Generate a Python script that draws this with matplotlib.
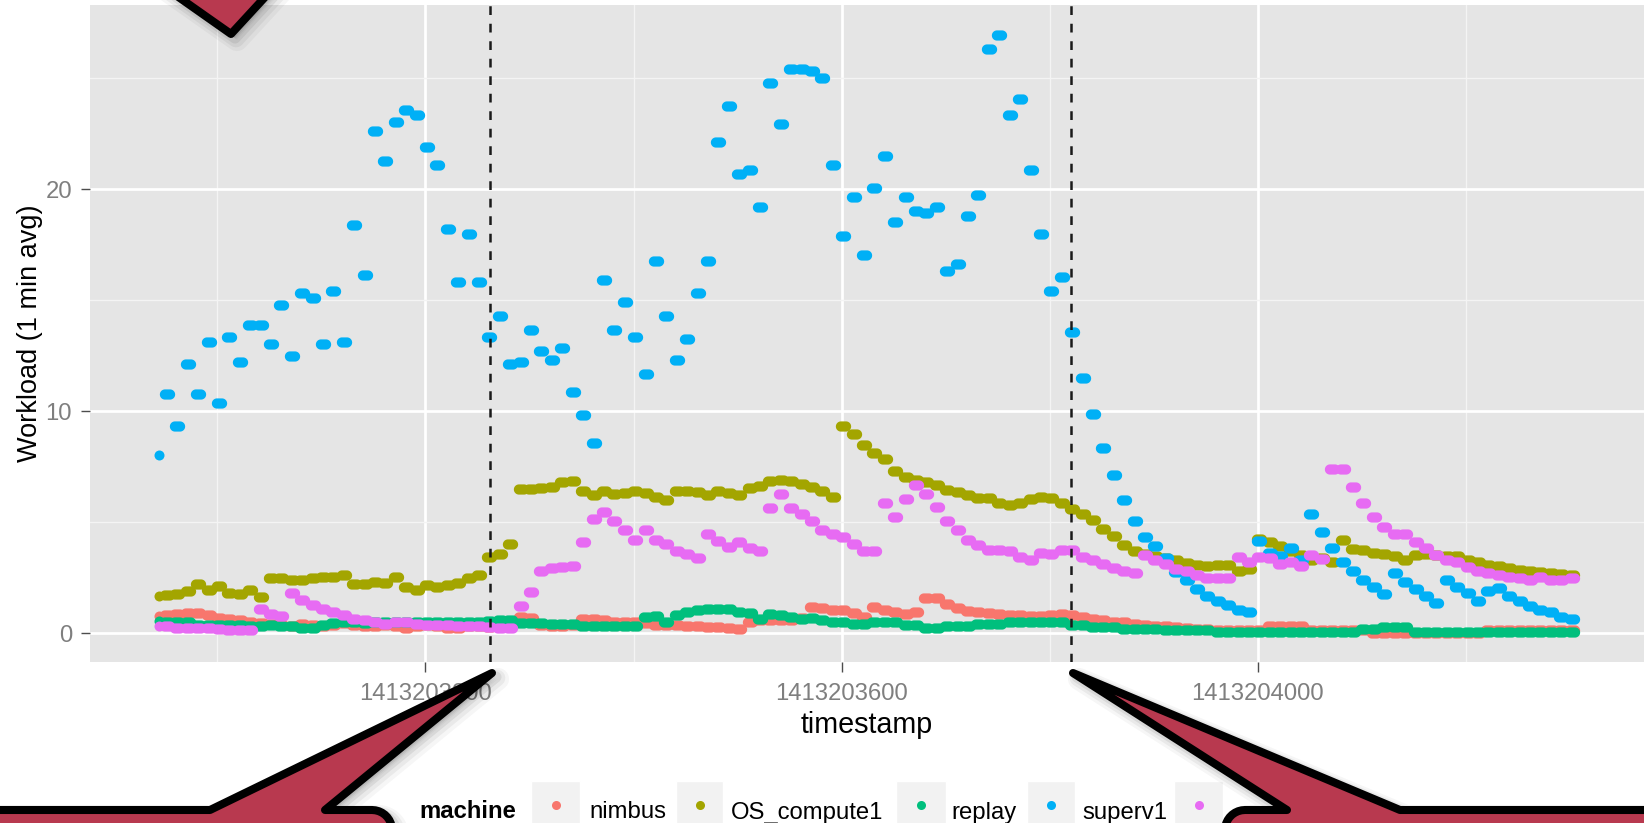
import numpy as np
import matplotlib
matplotlib.use("Agg")
import matplotlib.pyplot as plt
from matplotlib.path import Path
from matplotlib.patches import Polygon, Rectangle
from matplotlib.ticker import FixedLocator, FixedFormatter, NullFormatter

plt.rcParams['font.family'] = ['Liberation Sans', 'DejaVu Sans']

# ---------------- data ----------------
machines = ["nimbus", "OS_compute1", "replay", "superv1", "superv2"]
colors = ["#F8766D", "#A3A500", "#00BF7D", "#00B0F6", "#E76BF3"]

first_timestamp = 1413202944      # first (single) sample
pair_start = 1413202951.5         # later samples come in pairs, one value per 10 s
pair_step = 10

nimbus = [0.75,
    0.80, 0.85, 0.90, 0.90, 0.80, 0.70, 0.65, 0.60, 0.50, 0.45,
    0.40, 0.35, 0.30, 0.40, 0.38, 0.32, 0.35, 0.45, 0.38, 0.30,
    0.32, 0.35, 0.30, 0.25, 0.30, 0.35, 0.30, 0.25, 0.25, 0.30,
    0.30, 0.28, 0.35, 0.55, 0.72, 0.70, 0.35, 0.30, 0.30, 0.35,
    0.63, 0.63, 0.60, 0.52, 0.52, 0.50, 0.45, 0.37, 0.37, 0.35,
    0.30, 0.30, 0.27, 0.27, 0.25, 0.18, 0.52, 0.57, 0.57, 0.57,
    0.60, 0.70, 1.19, 1.12, 1.04, 1.04, 0.90, 0.72, 1.16, 1.04,
    0.97, 0.85, 0.95, 1.57, 1.57, 1.29, 1.15, 1.01, 0.94, 0.90,
    0.87, 0.82, 0.80, 0.78, 0.78, 0.80, 0.88, 0.80, 0.72, 0.65,
    0.60, 0.52, 0.48, 0.42, 0.37, 0.33, 0.30, 0.27, 0.22, 0.20,
    0.18, 0.16, 0.15, 0.15, 0.15, 0.15, 0.30, 0.30, 0.30, 0.30,
    0.15, 0.15, 0.15, 0.15, 0.15, 0.12, 0.02, 0.02, 0.02, 0.02,
    0.02, 0.02, 0.02, 0.02, 0.02, 0.02, 0.02, 0.12, 0.12, 0.12,
    0.12, 0.12, 0.12, 0.12, 0.12, 0.12]

os_compute1 = [1.67,
    1.70, 1.74, 1.90, 2.23, 1.93, 2.11, 1.80, 1.74, 1.93, 1.62,
    2.48, 2.46, 2.40, 2.40, 2.46, 2.51, 2.54, 2.61, 2.21, 2.21,
    2.31, 2.27, 2.54, 2.09, 1.94, 2.16, 2.09, 2.16, 2.24, 2.50,
    2.60, 3.43, 3.55, 4.00, 6.49, 6.49, 6.52, 6.60, 6.80, 6.85,
    6.40, 6.20, 6.42, 6.27, 6.30, 6.38, 6.30, 6.12, 5.98, 6.39,
    6.40, 6.34, 6.20, 6.40, 6.30, 6.20, 6.55, 6.62, 6.87, 6.90,
    6.84, 6.72, 6.60, 6.40, 6.15, 9.33, 8.96, 8.45, 8.10, 7.85,
    7.30, 7.05, 6.90, 6.79, 6.69, 6.45, 6.34, 6.24, 6.09, 6.09,
    5.85, 5.79, 5.85, 6.04, 6.12, 6.09, 5.85, 5.60, 5.35, 5.10,
    4.70, 4.35, 3.95, 3.70, 3.55, 3.45, 3.40, 3.30, 3.16, 3.06,
    3.01, 3.05, 3.05, 2.78, 2.88, 4.25, 4.10, 3.90, 3.70, 3.50,
    3.30, 3.36, 3.21, 4.20, 3.80, 3.73, 3.61, 3.55, 3.46, 3.30,
    3.51, 3.56, 3.52, 3.45, 3.46, 3.30, 3.18, 3.08, 3.00, 2.92,
    2.85, 2.81, 2.76, 2.70, 2.66, 2.60]

replay = [0.55,
    0.52, 0.52, 0.50, 0.37, 0.37, 0.37, 0.35, 0.35, 0.33, 0.33,
    0.35, 0.33, 0.33, 0.25, 0.22, 0.35, 0.45, 0.48, 0.48, 0.45,
    0.48, 0.50, 0.50, 0.50, 0.52, 0.48, 0.50, 0.50, 0.50, 0.52,
    0.52, 0.55, 0.57, 0.57, 0.45, 0.45, 0.45, 0.42, 0.42, 0.42,
    0.33, 0.33, 0.33, 0.33, 0.33, 0.33, 0.72, 0.75, 0.48, 0.80,
    0.97, 1.04, 1.07, 1.07, 1.07, 0.97, 0.90, 0.63, 0.87, 0.82,
    0.72, 0.63, 0.67, 0.60, 0.52, 0.48, 0.42, 0.42, 0.48, 0.48,
    0.48, 0.37, 0.37, 0.22, 0.22, 0.30, 0.30, 0.30, 0.42, 0.42,
    0.42, 0.52, 0.52, 0.52, 0.48, 0.48, 0.48, 0.37, 0.37, 0.27,
    0.27, 0.27, 0.18, 0.18, 0.18, 0.18, 0.12, 0.12, 0.12, 0.12,
    0.12, 0.07, 0.07, 0.07, 0.07, 0.07, 0.03, 0.03, 0.03, 0.03,
    0.03, 0.03, 0.03, 0.03, 0.03, 0.18, 0.18, 0.27, 0.27, 0.27,
    0.03, 0.03, 0.03, 0.03, 0.03, 0.03, 0.03, 0.03, 0.03, 0.03,
    0.03, 0.03, 0.03, 0.03, 0.03, 0.03]

superv1 = [8.00,
    10.75, 9.33, 12.10, 10.75, 13.13, 10.35, 13.34, 12.20, 13.87, 13.87,
    13.04, 14.79, 12.50, 15.30, 15.10, 13.04, 15.40, 13.13, 18.39, 16.13,
    22.62, 21.27, 23.03, 23.55, 23.33, 21.90, 21.08, 18.18, 15.80, 17.98,
    15.80, 13.34, 14.28, 12.10, 12.20, 13.64, 12.70, 12.29, 12.82, 10.86,
    9.83, 8.56, 15.92, 13.64, 14.89, 13.34, 11.69, 16.75, 14.28, 12.30,
    13.23, 15.30, 16.75, 22.10, 23.75, 20.66, 20.87, 19.20, 24.79, 22.92,
    25.40, 25.40, 25.30, 24.98, 21.08, 17.88, 19.64, 17.05, 20.05, 21.50,
    18.52, 19.64, 19.00, 18.90, 19.20, 16.33, 16.64, 18.80, 19.73, 26.33,
    26.96, 23.33, 24.07, 20.87, 17.98, 15.40, 16.02, 13.55, 11.49, 9.86,
    8.33, 7.10, 5.99, 5.04, 4.34, 3.93, 3.36, 2.76, 2.39, 1.97,
    1.67, 1.45, 1.25, 1.05, 0.93, 4.13, 3.59, 3.47, 3.81, 3.29,
    5.36, 4.53, 3.81, 3.21, 2.81, 2.39, 2.09, 1.76, 2.72, 2.30,
    1.97, 1.68, 1.36, 2.39, 2.09, 1.79, 1.46, 1.91, 2.01, 1.67,
    1.45, 1.22, 1.05, 0.93, 0.74, 0.62]

superv2 = [0.30,
    0.30, 0.25, 0.25, 0.22, 0.22, 0.18, 0.15, 0.15, 0.15, 1.07,
    0.88, 0.75, 1.82, 1.50, 1.25, 1.07, 0.95, 0.80, 0.62, 0.57,
    0.48, 0.42, 0.50, 0.52, 0.42, 0.37, 0.37, 0.35, 0.30, 0.33,
    0.33, 0.28, 0.22, 0.22, 1.22, 1.87, 2.81, 2.91, 2.99, 3.01,
    4.12, 5.15, 5.45, 5.04, 4.63, 4.21, 4.63, 4.21, 4.03, 3.70,
    3.55, 3.40, 4.45, 4.15, 3.88, 4.10, 3.81, 3.70, 5.64, 6.27,
    5.64, 5.37, 5.04, 4.63, 4.45, 4.33, 4.03, 3.70, 3.70, 5.85,
    5.25, 6.04, 6.69, 6.27, 5.67, 5.04, 4.63, 4.21, 3.96, 3.73,
    3.73, 3.70, 3.43, 3.31, 3.60, 3.55, 3.73, 3.73, 3.43, 3.28,
    3.13, 2.91, 2.80, 2.69, 3.50, 3.30, 3.10, 2.90, 2.78, 2.62,
    2.50, 2.46, 2.46, 3.43, 3.21, 3.43, 3.36, 3.10, 3.21, 3.00,
    3.51, 3.32, 7.39, 7.39, 6.57, 5.85, 5.25, 4.78, 4.45, 4.45,
    4.10, 3.85, 3.51, 3.28, 3.21, 2.99, 2.81, 2.72, 2.61, 2.54,
    2.46, 2.39, 2.51, 2.39, 2.39, 2.46]

series = [nimbus, os_compute1, replay, superv1, superv2]

event_times = [1413203262, 1413203820]          # dashed vertical markers
x_ticks = [1413203200, 1413203600, 1413204000]
x_tick_labels = ["1413203200", "1413203600", "1413204000"]
x_minor = [1413203000, 1413203400, 1413203800, 1413204200]
y_ticks = [0, 10, 20]
y_tick_labels = ["0", "10", "20"]
y_minor = [5, 15, 25]

# ---------------- figure ----------------
W, H = 1644, 823
fig = plt.figure(figsize=(W / 100, H / 100), dpi=100)
fig.patch.set_facecolor("white")

pl, pr, pt, pb = 89.8, 1644.0, 5.0, 661.7
ax = fig.add_axes([pl / W, 1 - pb / H, (pr - pl) / W, (pb - pt) / H])
ax.set_facecolor("#E5E5E5")
for s in ax.spines.values():
    s.set_visible(False)
ax.set_xlim(1413202877.4, 1413204371.1)
ax.set_ylim(-1.29, 28.29)

ax.xaxis.set_major_locator(FixedLocator(x_ticks))
ax.xaxis.set_major_formatter(FixedFormatter(x_tick_labels))
ax.xaxis.set_minor_locator(FixedLocator(x_minor))
ax.xaxis.set_minor_formatter(NullFormatter())
ax.yaxis.set_major_locator(FixedLocator(y_ticks))
ax.yaxis.set_major_formatter(FixedFormatter(y_tick_labels))
ax.yaxis.set_minor_locator(FixedLocator(y_minor))
ax.yaxis.set_minor_formatter(NullFormatter())

ax.grid(which="major", color="white", lw=1.95)
ax.grid(which="minor", color="#F4F4F4", lw=1.0)
ax.set_axisbelow(True)
ax.tick_params(which="minor", length=0)
ax.tick_params(axis="x", which="major", length=7.2, width=1.0, color="#4D4D4D",
               labelsize=17.2, labelcolor="#7F7F7F", pad=8)
ax.tick_params(axis="y", which="major", length=6.5, width=1.0, color="#4D4D4D",
               labelsize=17.2, labelcolor="#7F7F7F", pad=6.3)

ax.set_xlabel("timestamp", fontsize=20.7, color="black")
ax.xaxis.set_label_coords(0.5, -0.0971)
ax.xaxis.label.set_va("center")
ax.set_ylabel("Workload (1 min avg)", fontsize=19.5, color="black")
ax.yaxis.set_label_coords(-0.0386, 0.5)
ax.yaxis.label.set_va("center")

# pair marker: two overlapping dots (stadium shape)
d = 0.5
th1 = np.linspace(-np.pi / 2, np.pi / 2, 24)
th2 = np.linspace(np.pi / 2, 3 * np.pi / 2, 24)
verts = np.vstack([np.column_stack([d + np.cos(th1), np.sin(th1)]),
                   np.column_stack([-d + np.cos(th2), np.sin(th2)])])
verts = np.vstack([verts, verts[:1]])
codes = [Path.MOVETO] + [Path.LINETO] * (len(verts) - 2) + [Path.CLOSEPOLY]
pair_marker = Path(verts, codes)

for vals, c in zip(series, colors):
    n = len(vals) - 1
    tp = pair_start + pair_step * np.arange(n)
    ax.plot(tp, vals[1:], ls="none", marker=pair_marker, ms=11.0, mew=0,
            color=c, zorder=3)
    ax.plot([first_timestamp], [vals[0]], ls="none", marker="o", ms=7.2,
            mew=0, color=c, zorder=3)

for tv in event_times:
    ax.axvline(tv, color="#1A1A1A", lw=1.8, ls=(0, (3.5, 3.5)), zorder=4)

# ---------------- overlay (legend + callouts) ----------------
ov = fig.add_axes([0, 0, 1, 1])
ov.set_xlim(0, W)
ov.set_ylim(H, 0)
ov.axis("off")
ov.patch.set_alpha(0)
ov.set_zorder(5)

# legend
leg_y_text = 818.5
ov.text(419, leg_y_text, "machine", fontsize=17.2, fontweight="bold",
        ha="left", va="baseline", zorder=1)
key_x = [(531, 580), (676, 723), (896, 946), (1027, 1075), (1174, 1223)]
label_x = [589, 731, 951, 1082, None]
for (x0, x1), lx, name, c in zip(key_x, label_x, machines, colors):
    ov.add_patch(Rectangle((x0, 780.7), x1 - x0, 50, facecolor="#F2F2F2",
                           edgecolor="white", lw=1, zorder=1))
    ov.plot([(x0 + x1) / 2], [805], ls="none", marker="o", ms=6.5, mew=0,
            color=c, zorder=2)
    if lx is not None:
        ov.text(lx, leg_y_text, name, fontsize=17.2, ha="left",
                va="baseline", zorder=1)


def arc(cx, cy, r, a0, a1, n=10):
    a = np.linspace(np.radians(a0), np.radians(a1), n)
    return [(cx + r * np.cos(t), cy + r * np.sin(t)) for t in a]


bubble_top = [(140, -30), (290, -30), (231, 34)]
bubble_left = ([(-30, 810), (210, 810), (492, 673), (325, 810), (372, 810)]
               + arc(372, 830, 20, -90, 0) + [(392, 900), (-30, 900)])
bubble_right = ([(1225, 900), (1225, 830)] + arc(1245, 830, 20, 180, 270)
                + [(1287, 810), (1073, 673), (1400, 810), (1700, 810),
                   (1700, 900)])

fill = "#B8394F"
for pts in (bubble_top, bubble_left, bubble_right):
    pts = np.array(pts, dtype=float)
    for off, lw, a in [(6, 16, 0.035), (5, 12, 0.05), (4, 8, 0.07)]:
        ov.add_patch(Polygon(pts + off, closed=True, facecolor="black",
                             edgecolor="black", lw=lw, alpha=a,
                             joinstyle="round", zorder=3))
    ov.add_patch(Polygon(pts, closed=True, facecolor=fill, edgecolor="black",
                         lw=5.8, joinstyle="round", zorder=4))

fig.savefig("out.png", dpi=100)
